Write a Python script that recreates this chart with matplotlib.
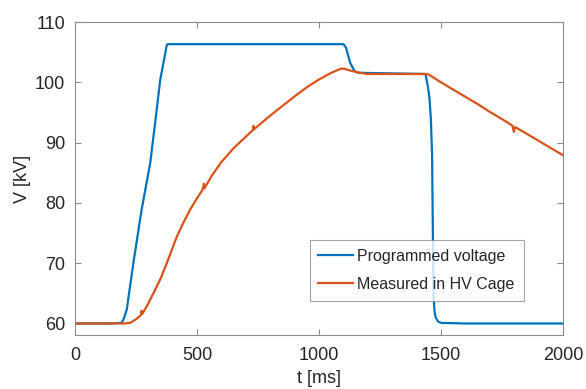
import numpy as np
import matplotlib.pyplot as plt

plt.rcParams['font.family'] = ['Liberation Sans', 'DejaVu Sans']

# Programmed voltage
t_prog = [0, 150, 191, 200, 212, 239, 273, 308, 328, 349, 376, 380,
          1100, 1110, 1128, 1145, 1160, 1300, 1436, 1445, 1452, 1458, 1463,
          1466, 1469, 1473, 1478, 1488, 1500, 1600, 1800, 2000]
v_prog = [60.0, 60.0, 60.1, 60.8, 62.3, 70.0, 78.9, 86.6, 93.2, 100.4, 106.2, 106.35,
          106.35, 105.8, 103.2, 101.9, 101.6, 101.5, 101.4, 99.5, 97.5, 94.0, 88.0,
          76.0, 64.5, 62.0, 61.0, 60.3, 60.1, 60.0, 60.0, 60.0]

t_meas = [0, 200, 226, 250, 270, 273, 276, 300, 321, 350, 376, 417, 445, 472, 500,
          520, 526, 528, 530, 560, 600, 650, 700, 729, 731, 733, 750, 800, 850,
          900, 950, 1000, 1050, 1090, 1105, 1125, 1155, 1196, 1300, 1440, 1450,
          1500, 1550, 1600, 1650, 1700, 1750, 1790, 1793, 1798, 1803, 1850, 1900,
          1950, 2000]
v_meas = [60.0, 60.0, 60.1, 60.7, 61.4, 62.1, 61.6, 63.3, 65.0, 67.4, 70.0, 74.4, 76.8, 78.9, 80.8,
          82.0, 82.6, 83.2, 82.4, 84.5, 86.8, 89.1, 91.0, 92.1, 92.8, 92.2, 92.8, 94.5, 96.1,
          97.7, 99.2, 100.5, 101.6, 102.3, 102.25, 102.0, 101.7, 101.4, 101.4, 101.4, 101.3,
          100.0, 98.8, 97.6, 96.4, 95.1, 93.9, 92.9, 92.7, 91.8, 92.6, 91.5, 90.3,
          89.1, 87.9]

fig = plt.figure(figsize=(5.86, 3.89), dpi=100)
ax = fig.add_axes([0.128, 0.139, 0.833, 0.804])

ax.plot(t_prog, v_prog, color='#0072BD', linewidth=1.6, label='Programmed voltage')
ax.plot(t_meas, v_meas, color='#D95319', linewidth=1.6, label='Measured in HV Cage')

ax.set_xlim(0, 2000)
ax.set_ylim(58.1, 110)
ax.set_xticks([0, 500, 1000, 1500, 2000])
ax.set_yticks([60, 70, 80, 90, 100, 110])

for s in ax.spines.values():
    s.set_color('#8c8c8c')
    s.set_linewidth(0.8)
ax.tick_params(direction='in', top=True, right=True, length=4, width=0.8,
               color='#8c8c8c', labelsize=13, labelcolor='#262626')
ax.tick_params(axis='x', pad=9)
ax.tick_params(axis='y', pad=7)

ax.set_xlabel('t [ms]', fontsize=13, color='#262626', labelpad=4)
ax.set_ylabel('V [kV]', fontsize=13, color='#262626', labelpad=3)

leg = ax.legend(loc='lower right', bbox_to_anchor=(0.919, 0.11), fontsize=11.5,
                frameon=True, fancybox=False, handlelength=2.2, handletextpad=0.25,
                borderpad=0.55, labelspacing=0.8, borderaxespad=0)
leg.get_frame().set_edgecolor('#8c8c8c')
leg.get_frame().set_linewidth(0.8)
for txt in leg.get_texts():
    txt.set_color('#262626')

fig.savefig('out.png', dpi=100)
